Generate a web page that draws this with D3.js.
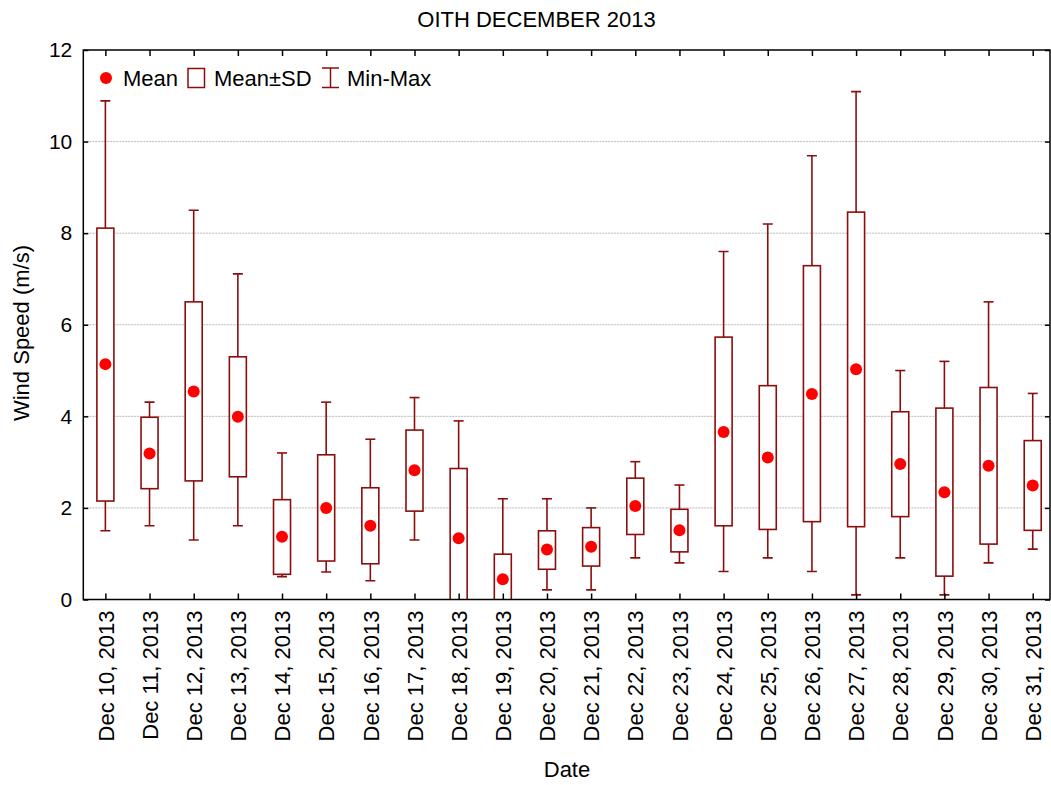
<!DOCTYPE html>
<html>
<head>
<meta charset="utf-8">
<script src="https://cdn.jsdelivr.net/npm/d3@7"></script>
<style>
  html, body { margin: 0; padding: 0; background: #fff; }
  svg { display: block; font-family: "Liberation Sans", Arial, sans-serif; }
</style>
</head>
<body>
<svg id="chart" width="1051" height="785"></svg>
<script>
const dates = ["Dec 10, 2013","Dec 11, 2013","Dec 12, 2013","Dec 13, 2013","Dec 14, 2013","Dec 15, 2013","Dec 16, 2013","Dec 17, 2013","Dec 18, 2013","Dec 19, 2013","Dec 20, 2013","Dec 21, 2013","Dec 22, 2013","Dec 23, 2013","Dec 24, 2013","Dec 25, 2013","Dec 26, 2013","Dec 27, 2013","Dec 28, 2013","Dec 29, 2013","Dec 30, 2013","Dec 31, 2013"];
const meanVals = [5.14,3.19,4.54,3.99,1.37,2.00,1.61,2.82,1.34,0.44,1.09,1.15,2.04,1.51,3.66,3.10,4.49,5.03,2.96,2.34,2.92,2.49];
const sdLow    = [2.15,2.42,2.59,2.68,0.55,0.84,0.78,1.93,-0.18,-0.11,0.66,0.73,1.42,1.04,1.61,1.53,1.70,1.59,1.81,0.51,1.21,1.51];
const sdHigh   = [8.11,3.98,6.50,5.30,2.18,3.16,2.44,3.70,2.86,0.99,1.50,1.57,2.65,1.97,5.73,4.67,7.29,8.46,4.10,4.18,4.63,3.47];
const minVals  = [1.50,1.61,1.30,1.61,0.50,0.60,0.41,1.30,0.00,0.00,0.21,0.21,0.91,0.80,0.61,0.91,0.61,0.10,0.91,0.10,0.80,1.10];
const maxVals  = [10.89,4.31,8.50,7.11,3.20,4.31,3.50,4.41,3.90,2.20,2.20,2.00,3.01,2.50,7.60,8.20,9.69,11.09,5.00,5.20,6.50,4.50];
const yTicks = [0,2,4,6,8,10,12];
const titleText = "OITH DECEMBER 2013";
const xTitle = "Date";
const yTitle = "Wind Speed (m/s)";
const legendLabels = ["Mean","Mean\u00b1SD","Min-Max"];

(function(){
const rows = dates.map((d,i)=>({date:d, mean:meanVals[i], lo:sdLow[i], hi:sdHigh[i], min:minVals[i], max:maxVals[i]}));

const svg = d3.select("#chart");
const pL = 83.3, pR = 1050, pT = 50, pB = 599.5;
const boxColor = "#8b0e0e", dotColor = "#ff0000";

const x = d3.scalePoint().domain(dates).range([pL, 1054.8]).padding(0.5);
const y = d3.scaleLinear().domain([0,12]).range([pB, pT]);

// gridlines
svg.append("g").selectAll("line").data(yTicks.filter(t=>t>0 && t<12)).join("line")
  .attr("x1", pL).attr("x2", pR)
  .attr("y1", d=>y(d)).attr("y2", d=>y(d))
  .attr("stroke", "#b8b8b8").attr("stroke-width", 1).attr("stroke-dasharray", "2,1");

// clip
svg.append("defs").append("clipPath").attr("id","plotclip")
  .append("rect").attr("x", pL).attr("y", pT).attr("width", pR-pL).attr("height", pB-pT);

const plot = svg.append("g").attr("clip-path","url(#plotclip)");
const bw = 17, cap = 10;

const g = plot.selectAll("g.day").data(rows).join("g").attr("class","day");
g.append("line").attr("x1", d=>x(d.date)).attr("x2", d=>x(d.date))
  .attr("y1", d=>y(d.min)).attr("y2", d=>y(d.max))
  .attr("stroke", boxColor).attr("stroke-width", 1.6);
g.append("line").attr("x1", d=>x(d.date)-cap/2).attr("x2", d=>x(d.date)+cap/2)
  .attr("y1", d=>y(d.max)).attr("y2", d=>y(d.max))
  .attr("stroke", boxColor).attr("stroke-width", 1.6);
g.append("line").attr("x1", d=>x(d.date)-cap/2).attr("x2", d=>x(d.date)+cap/2)
  .attr("y1", d=>y(d.min)).attr("y2", d=>y(d.min))
  .attr("stroke", boxColor).attr("stroke-width", 1.6);
g.append("rect").attr("x", d=>x(d.date)-bw/2).attr("width", bw)
  .attr("y", d=>y(d.hi)).attr("height", d=>y(d.lo)-y(d.hi))
  .attr("fill", "#fff").attr("stroke", boxColor).attr("stroke-width", 1.6);
g.append("circle").attr("cx", d=>x(d.date)).attr("cy", d=>y(d.mean)).attr("r", 6)
  .attr("fill", dotColor);

// frame
svg.append("rect").attr("x", pL).attr("y", pT).attr("width", pR-pL).attr("height", pB-pT)
  .attr("fill","none").attr("stroke","#000").attr("stroke-width",1.5);

// axes with inward ticks
const yAxisL = d3.axisLeft(y).tickValues(yTicks).tickSizeInner(-5).tickSizeOuter(0).tickPadding(11);
const gyl = svg.append("g").attr("transform",`translate(${pL},0)`).call(yAxisL);
gyl.select(".domain").remove();
gyl.selectAll("text").attr("font-size", 21).attr("fill","#000").attr("font-family","Liberation Sans, Arial, sans-serif");
gyl.selectAll("line").attr("stroke","#000").attr("stroke-width",1.5);

const yAxisR = d3.axisRight(y).tickValues(yTicks).tickSizeInner(-5).tickSizeOuter(0).tickFormat("");
const gyr = svg.append("g").attr("transform",`translate(${pR},0)`).call(yAxisR);
gyr.select(".domain").remove();
gyr.selectAll("line").attr("stroke","#000").attr("stroke-width",1.5);

const xAxisB = d3.axisBottom(x).tickSizeInner(-6).tickSizeOuter(0).tickPadding(0);
const gxb = svg.append("g").attr("transform",`translate(0,${pB})`).call(xAxisB);
gxb.select(".domain").remove();
gxb.selectAll("line").attr("stroke","#000").attr("stroke-width",1.5);
gxb.selectAll("text")
  .attr("font-size", 22).attr("fill","#000").attr("font-family","Liberation Sans, Arial, sans-serif")
  .attr("text-anchor","end")
  .attr("transform","rotate(-90)")
  .attr("x", -11).attr("y", 0).attr("dy","0.35em");

const xAxisT = d3.axisTop(x).tickSizeInner(-6).tickSizeOuter(0).tickFormat("");
const gxt = svg.append("g").attr("transform",`translate(0,${pT})`).call(xAxisT);
gxt.select(".domain").remove();
gxt.selectAll("line").attr("stroke","#000").attr("stroke-width",1.5);

// titles
svg.append("text").attr("x", 536.5).attr("y", 26.5).attr("text-anchor","middle")
  .attr("font-size", 22).text(titleText);
svg.append("text").attr("x", 567).attr("y", 777).attr("text-anchor","middle")
  .attr("font-size", 22).text(xTitle);
svg.append("text").attr("transform","translate(29,333) rotate(-90)").attr("text-anchor","middle")
  .attr("font-size", 22).text(yTitle);

// legend
const lg = svg.append("g");
lg.append("circle").attr("cx",106).attr("cy",78).attr("r",6).attr("fill",dotColor);
lg.append("text").attr("x",123).attr("y",86).attr("font-size",22).text(legendLabels[0]);
lg.append("rect").attr("x",188).attr("y",68.5).attr("width",16.5).attr("height",19)
  .attr("fill","#fff").attr("stroke",boxColor).attr("stroke-width",1.5);
lg.append("text").attr("x",214).attr("y",86).attr("font-size",22).text(legendLabels[1]);
lg.append("line").attr("x1",330.5).attr("x2",330.5).attr("y1",68).attr("y2",87.5).attr("stroke",boxColor).attr("stroke-width",1.5);
lg.append("line").attr("x1",322).attr("x2",339).attr("y1",68).attr("y2",68).attr("stroke",boxColor).attr("stroke-width",1.5);
lg.append("line").attr("x1",322).attr("x2",339).attr("y1",87.5).attr("y2",87.5).attr("stroke",boxColor).attr("stroke-width",1.5);
lg.append("text").attr("x",347).attr("y",86).attr("font-size",22).text(legendLabels[2]);
})();
</script>
</body>
</html>
